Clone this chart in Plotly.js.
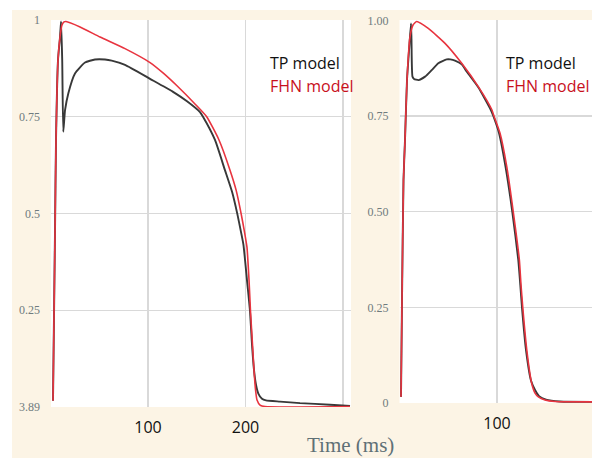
<!DOCTYPE html>
<html>
<head>
<meta charset="utf-8">
<script src="https://cdn.plot.ly/plotly-3.0.1.min.js"></script>
<style>html,body{margin:0;padding:0;background:#fff;}#chart{width:592px;height:458px;}</style>
</head>
<body>
<div id="chart"></div>
<script>
// ---- Left panel (long action potential) ----
const leftTimeTP = [2.56, 4.62, 5.64, 7.69, 9.74, 10.8, 12.0, 13.1, 14.9, 18.3, 25.1, 35.4, 45.6, 55.9, 62.8, 76.4, 102.1, 125.3, 140.0, 153.3, 156.4, 168.7, 178.9, 186.2, 191.6, 195.4, 197.9, 201.5, 204.6, 206.7, 208.7, 210.8, 213.3, 216.9, 221.0, 235.4, 255.9, 286.7, 307.2];
const leftVTP    = [0.016, 0.457, 0.690, 0.897, 0.956, 0.996, 0.897, 0.711, 0.767, 0.811, 0.862, 0.890, 0.898, 0.898, 0.895, 0.884, 0.848, 0.815, 0.790, 0.762, 0.750, 0.690, 0.612, 0.556, 0.499, 0.452, 0.419, 0.328, 0.248, 0.160, 0.096, 0.057, 0.034, 0.021, 0.017, 0.014, 0.010, 0.006, 0.003];
const leftTimeFHN = [2.56, 4.62, 5.64, 7.69, 9.74, 11.79, 13.85, 15.9, 30.3, 50.8, 76.4, 102.1, 116.0, 129.7, 148.2, 160.2, 172.8, 184.1, 190.3, 195.4, 199.0, 201.5, 203.6, 205.1, 207.2, 208.7, 210.3, 211.8, 214.9, 220.0, 307.2];
const leftVFHN    = [0.016, 0.457, 0.690, 0.897, 0.956, 0.987, 0.995, 0.996, 0.982, 0.956, 0.926, 0.890, 0.862, 0.830, 0.783, 0.750, 0.690, 0.612, 0.561, 0.501, 0.452, 0.413, 0.328, 0.248, 0.160, 0.096, 0.044, 0.018, 0.005, 0.001, 0.001];

// ---- Right panel (short action potential) ----
const rightTimeTP = [1.54, 2.56, 4.10, 5.64, 7.69, 10.0, 11.8, 12.3, 13.3, 14.9, 19.5, 26.2, 33.0, 39.8, 48.4, 52.1, 56.9, 63.8, 69.2, 80.8, 93.8, 96.2, 102.1, 108.7, 115.7, 121.8, 123.9, 125.6, 129.7, 134.9, 139.0, 143.1, 150.3, 164.6, 197.4];
const rightVTP    = [0.016, 0.269, 0.583, 0.687, 0.844, 0.930, 0.992, 0.949, 0.853, 0.847, 0.844, 0.853, 0.870, 0.888, 0.898, 0.898, 0.895, 0.885, 0.865, 0.825, 0.765, 0.750, 0.705, 0.618, 0.499, 0.374, 0.308, 0.250, 0.139, 0.058, 0.034, 0.018, 0.009, 0.004, 0.003];
const rightTimeFHN = [1.54, 2.56, 4.10, 5.64, 7.69, 10.77, 13.85, 17.6, 29.5, 46.7, 63.8, 80.8, 94.6, 96.9, 103.1, 110.0, 116.7, 122.9, 124.6, 126.4, 130.5, 135.6, 139.0, 142.4, 149.2, 159.5, 197.4];
const rightVFHN    = [0.016, 0.269, 0.583, 0.687, 0.844, 0.957, 0.988, 0.997, 0.979, 0.940, 0.888, 0.827, 0.767, 0.750, 0.705, 0.618, 0.499, 0.374, 0.308, 0.250, 0.139, 0.051, 0.026, 0.016, 0.008, 0.004, 0.003];

// ---- Tick labels ----
const yTickVals = [0, 0.25, 0.5, 0.75, 1];
const leftYTickText = ['3.89', '0.25', '0.5', '0.75', '1'];
const rightYTickText = ['0', '0.25', '0.50', '0.75', '1.00'];
const leftXTickVals = [100, 200, 300];
const leftXTickText = ['100', '200', ''];
const rightXTickVals = [100];
const rightXTickText = ['100'];
const seriesNames = ['TP model', 'FHN model'];

const W = 592, H = 458;
const BEIGE = '#fcf4e5';
const RED = '#e8343f';
const DARK = '#383838';
const GRID = '#d9d9d9';
const serifTick = {family: 'Liberation Serif, DejaVu Serif, serif', size: 12, color: '#6f7b7e'};
const sansTick = {family: 'Open Sans, Liberation Sans, sans-serif', size: 16, color: '#111111'};
const smooth = {shape: 'spline', smoothing: 0.5};

const traces = [
  {x: leftTimeTP, y: leftVTP, xaxis: 'x', yaxis: 'y', mode: 'lines', name: seriesNames[0], line: Object.assign({color: DARK, width: 1.9}, smooth)},
  {x: leftTimeFHN, y: leftVFHN, xaxis: 'x', yaxis: 'y', mode: 'lines', name: seriesNames[1], line: Object.assign({color: RED, width: 1.6}, smooth)},
  {x: rightTimeTP, y: rightVTP, xaxis: 'x2', yaxis: 'y2', mode: 'lines', name: seriesNames[0], line: Object.assign({color: DARK, width: 1.9}, smooth)},
  {x: rightTimeFHN, y: rightVFHN, xaxis: 'x2', yaxis: 'y2', mode: 'lines', name: seriesNames[1], line: Object.assign({color: RED, width: 1.6}, smooth)}
];

const xCommon = {showgrid: true, gridcolor: GRID, gridwidth: 1.2, zeroline: false, showline: false, ticks: '', tickmode: 'array', tickfont: sansTick, ticklabelstandoff: 9, fixedrange: true};
const yCommon = {showgrid: true, gridcolor: GRID, gridwidth: 1.2, zeroline: false, showline: false, ticks: '', tickmode: 'array', tickvals: yTickVals, tickfont: serifTick, ticklabelstandoff: 10, fixedrange: true};

const layout = {
  width: W, height: H,
  margin: {l: 0, r: 0, t: 0, b: 0, pad: 0},
  paper_bgcolor: BEIGE,
  plot_bgcolor: '#ffffff',
  showlegend: false,
  xaxis: Object.assign({}, xCommon, {domain: [51 / W, 351 / W], range: [0.5, 308.2], tickvals: leftXTickVals, ticktext: leftXTickText, anchor: 'y'}),
  yaxis: Object.assign({}, yCommon, {domain: [(H - 407) / H, (H - 20) / H], range: [0, 1], ticktext: leftYTickText, anchor: 'x'}),
  xaxis2: Object.assign({}, xCommon, {domain: [399.5 / W, 1], range: [0, 197.4], tickvals: rightXTickVals, ticktext: rightXTickText, anchor: 'y2'}),
  yaxis2: Object.assign({}, yCommon, {domain: [(H - 403) / H, (H - 20) / H], range: [0, 1.001], ticktext: rightYTickText, anchor: 'x2'}),
  shapes: [
    {type: 'rect', xref: 'paper', yref: 'paper', x0: 0, x1: 1, y0: (H - 10) / H, y1: 1, fillcolor: '#ffffff', line: {width: 0}, layer: 'below'},
    {type: 'rect', xref: 'paper', yref: 'paper', x0: 0, x1: 12 / W, y0: 0, y1: 1, fillcolor: '#ffffff', line: {width: 0}, layer: 'below'}
  ],
  annotations: [
    {xref: 'paper', yref: 'paper', x: 268 / W, y: (H - 63) / H, xanchor: 'left', yanchor: 'middle', showarrow: false, text: seriesNames[0], font: {family: 'Open Sans, Liberation Sans, sans-serif', size: 16, color: '#111111'}},
    {xref: 'paper', yref: 'paper', x: 268 / W, y: (H - 86) / H, xanchor: 'left', yanchor: 'middle', showarrow: false, text: seriesNames[1], font: {family: 'Open Sans, Liberation Sans, sans-serif', size: 16, color: '#c8101c'}},
    {xref: 'paper', yref: 'paper', x: 504 / W, y: (H - 63) / H, xanchor: 'left', yanchor: 'middle', showarrow: false, text: seriesNames[0], font: {family: 'Open Sans, Liberation Sans, sans-serif', size: 16, color: '#111111'}},
    {xref: 'paper', yref: 'paper', x: 504 / W, y: (H - 86) / H, xanchor: 'left', yanchor: 'middle', showarrow: false, text: seriesNames[1], font: {family: 'Open Sans, Liberation Sans, sans-serif', size: 16, color: '#c8101c'}},
    {xref: 'paper', yref: 'paper', x: 350 / W, y: (H - 445) / H, xanchor: 'center', yanchor: 'middle', showarrow: false, text: 'Time (ms)', font: {family: 'Liberation Serif, DejaVu Serif, serif', size: 21, color: '#5f7076'}}
  ]
};

Plotly.newPlot('chart', traces, layout, {displayModeBar: false, staticPlot: true});
</script>
</body>
</html>
